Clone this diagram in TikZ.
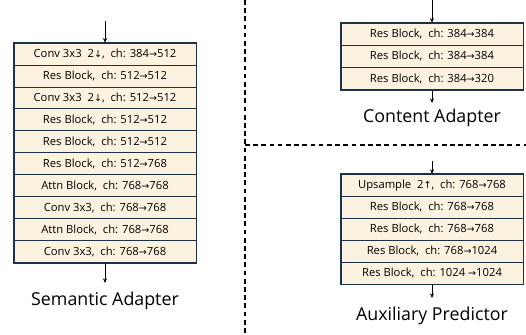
\documentclass[tikz,border=0pt]{standalone}
\usepackage{fontspec}
\setmainfont{Open Sans}
\newfontfamily\arrowfont{DejaVu Sans}
\usetikzlibrary{arrows.meta,positioning}
\newcommand{\ra}{{\arrowfont\scalebox{0.85}{→}}}
\newcommand{\da}{{\arrowfont\scalebox{0.85}{↓}}}
\newcommand{\ua}{{\arrowfont\scalebox{0.85}{↑}}}

\begin{document}
\begin{tikzpicture}[x=0.03cm,y=-0.03cm,
  row/.style={draw=navy,fill=cream,line width=0.8pt,minimum width=5.46cm,
    minimum height=0.657cm,inner sep=0pt,anchor=north,font=\fontsize{9.6}{11}\selectfont},
  frame/.style={draw=navy,line width=1.1pt},
  flow/.style={-{Stealth[length=4pt,width=3.5pt]},line width=0.8pt},
  title/.style={font=\fontsize{15.2}{18}\selectfont},
  divider/.style={dashed,line width=0.9pt,dash pattern=on 4pt off 3pt}]
  \definecolor{navy}{HTML}{1E3247}
  \definecolor{cream}{HTML}{FBF3E0}
  \useasboundingbox (0,0) rectangle (526,335);
  % dividers
  \draw[divider] (245,0) -- (245,335);
  \draw[divider] (245,145) -- (526,145);
  % ---- Semantic Adapter
  \foreach \t [count=\i] in {{Conv 3x3\ \ 2\da,\ \ ch: 384\ra512},{Res Block,\ \ ch: 512\ra512},
      {Conv 3x3\ \ 2\da,\ \ ch: 512\ra512},{Res Block,\ \ ch: 512\ra512},{Res Block,\ \ ch: 512\ra512},
      {Res Block,\ \ ch: 512\ra768},{Attn Block,\ \ ch: 768\ra768},{Conv 3x3,\ \ ch: 768\ra768},
      {Attn Block,\ \ ch: 768\ra768},{Conv 3x3,\ \ ch: 768\ra768}}
    \node[row] (sa\i) at (105,42.7+21.93*\i-21.93) {\t};
  \draw[frame] (sa1.north west) rectangle (sa10.south east);
  \coordinate (sain) at (105,21);
  \coordinate (saout) at (105,283);
  \draw[flow] (sain) -- (sa1);
  \draw[flow] (sa10) -- (saout);
  \node[title] (salabel) at (105,301) {Semantic Adapter};
  % ---- Content Adapter
  \foreach \t [count=\i] in {{Res Block,\ \ ch: 384\ra384},{Res Block,\ \ ch: 384\ra384},
      {Res Block,\ \ ch: 384\ra320}}
    \node[row] (ca\i) at (432,22.7+22.2*\i-22.2) {\t};
  \draw[frame] (ca1.north west) rectangle (ca3.south east);
  \coordinate (cain) at (432,0);
  \coordinate (caout) at (432,103);
  \draw[flow] (cain) -- (ca1);
  \draw[flow] (ca3) -- (caout);
  \node[title] (calabel) at (432,118) {Content Adapter};
  % ---- Auxiliary Predictor
  \foreach \t [count=\i] in {{Upsample\ \ 2\ua,\ \ ch: 768\ra768},{Res Block,\ \ ch: 768\ra768},
      {Res Block,\ \ ch: 768\ra768},{Res Block,\ \ ch: 768\ra1024},{Res Block,\ \ ch: 1024 \ra1024}}
    \node[row] (ap\i) at (432,174+22*\i-22) {\t};
  \draw[frame] (ap1.north west) rectangle (ap5.south east);
  \coordinate (apin) at (432,161);
  \coordinate (apout) at (432,298);
  \draw[flow] (apin) -- (ap1);
  \draw[flow] (ap5) -- (apout);
  \node[title] (aplabel) at (432,316) {Auxiliary Predictor};
\end{tikzpicture}
\end{document}
